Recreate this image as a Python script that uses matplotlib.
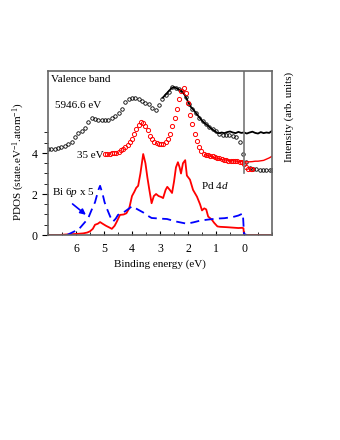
import matplotlib
matplotlib.use('Agg')
import matplotlib.pyplot as plt
from matplotlib.ticker import MultipleLocator, FixedLocator

plt.rcParams['font.family'] = ['Liberation Serif', 'DejaVu Serif']
plt.rcParams['mathtext.fontset'] = 'custom'
plt.rcParams['mathtext.rm'] = 'Liberation Serif'
plt.rcParams['mathtext.it'] = 'Liberation Serif:italic'

# 5946.6 eV valence band (open circles)
hx_e = [7.00, 6.88, 6.76, 6.64, 6.52, 6.40, 6.28, 6.16, 6.04, 5.92, 5.80, 5.68, 5.56, 5.44,
        5.32, 5.20, 5.08, 4.96, 4.84, 4.72, 4.60, 4.48, 4.36, 4.24, 4.12, 4.00, 3.88, 3.76,
        3.64, 3.52, 3.40, 3.28, 3.16, 3.04, 2.92, 2.80, 2.68, 2.56, 2.44, 2.32, 2.20, 2.08,
        1.96, 1.84, 1.72, 1.60, 1.48, 1.36, 1.24, 1.12, 1.00, 0.88, 0.76, 0.64, 0.52, 0.40,
        0.28, 0.16, 0.04, -0.08, -0.20, -0.32, -0.44, -0.56, -0.68, -0.80, -0.92, -1.00]
hx_i = [4.18, 4.18, 4.20, 4.24, 4.28, 4.33, 4.42, 4.55, 4.78, 4.98, 5.08, 5.20, 5.50, 5.70,
        5.68, 5.62, 5.60, 5.60, 5.62, 5.70, 5.80, 5.93, 6.15, 6.48, 6.62, 6.68, 6.70, 6.62,
        6.52, 6.45, 6.38, 6.20, 6.12, 6.32, 6.62, 6.85, 6.98, 7.20, 7.18, 7.10, 7.00, 6.75,
        6.38, 6.15, 5.95, 5.72, 5.55, 5.40, 5.28, 5.15, 5.05, 4.92, 4.88, 4.88, 4.87, 4.83,
        4.78, 4.55, 3.95, 3.55, 3.28, 3.22, 3.20, 3.19, 3.18, 3.18, 3.17, 3.17]

# 5946.6 eV solid line
hl_e = [2.90, 2.80, 2.70, 2.60, 2.50, 2.40, 2.30, 2.20, 2.10, 2.00, 1.90, 1.80, 1.70, 1.60,
        1.50, 1.40, 1.30, 1.20, 1.10, 1.00, 0.90, 0.80, 0.70, 0.60, 0.50, 0.40, 0.30, 0.20,
        0.10, 0.00, -0.10, -0.20, -0.30, -0.40, -0.50, -0.60, -0.70, -0.80, -0.90, -1.00]
hl_i = [6.70, 6.85, 7.00, 7.15, 7.22, 7.15, 7.08, 6.98, 6.80, 6.50, 6.25, 6.10, 5.92, 5.75,
        5.58, 5.45, 5.35, 5.22, 5.12, 5.02, 4.96, 5.00, 4.97, 5.02, 5.05, 5.00, 4.97, 5.03,
        4.98, 5.00, 4.95, 5.00, 5.04, 4.98, 4.95, 5.02, 4.97, 5.00, 4.98, 5.08]

# 35 eV valence band (open circles)
lx_e = [4.96, 4.88, 4.80, 4.72, 4.64, 4.56, 4.48, 4.40, 4.32, 4.24, 4.16, 4.08, 4.00, 3.92,
        3.84, 3.76, 3.68, 3.60, 3.52, 3.44, 3.36, 3.28, 3.20, 3.12, 3.04, 2.96, 2.88, 2.80,
        2.72, 2.64, 2.56, 2.48, 2.40, 2.32, 2.24, 2.16, 2.08, 2.00, 1.92, 1.84, 1.76, 1.68,
        1.60, 1.52, 1.44, 1.36, 1.28, 1.20, 1.12, 1.04, 0.96, 0.88, 0.80, 0.72, 0.64, 0.56,
        0.48, 0.40, 0.32, 0.24, 0.16, 0.08, 0.00, -0.08, -0.16, -0.24, -0.30]
lx_i = [3.95, 3.96, 3.97, 3.98, 3.99, 4.02, 4.07, 4.13, 4.20, 4.28, 4.38, 4.52, 4.68, 4.92,
        5.18, 5.38, 5.50, 5.47, 5.33, 5.10, 4.85, 4.68, 4.56, 4.48, 4.45, 4.44, 4.45, 4.55,
        4.70, 4.95, 5.30, 5.70, 6.15, 6.65, 7.02, 7.15, 6.95, 6.45, 5.85, 5.40, 4.95, 4.60,
        4.30, 4.08, 3.96, 3.90, 3.88, 3.86, 3.84, 3.80, 3.78, 3.74, 3.70, 3.67, 3.65, 3.63,
        3.62, 3.61, 3.60, 3.59, 3.58, 3.56, 3.45, 3.30, 3.22, 3.20, 3.20]

# 35 eV solid line
ll_e = [1.40, 1.30, 1.20, 1.10, 1.00, 0.90, 0.80, 0.70, 0.60, 0.50, 0.40, 0.30, 0.20, 0.10,
        0.00, -0.10, -0.20, -0.30, -0.40, -0.50, -0.60, -0.70, -0.80, -0.90, -1.00]
ll_i = [3.92, 3.88, 3.84, 3.80, 3.76, 3.72, 3.68, 3.66, 3.65, 3.63, 3.62, 3.60, 3.60, 3.58,
        3.57, 3.57, 3.57, 3.58, 3.60, 3.60, 3.62, 3.64, 3.70, 3.76, 3.84]

# Pd 4d PDOS
pd_e = [7.0, 6.6, 6.3, 6.0, 5.74, 5.6, 5.5, 5.4, 5.32, 5.22, 5.14, 5.05, 4.93, 4.8, 4.72,
        4.62, 4.54, 4.43, 4.3, 4.2, 4.1, 4.0, 3.92, 3.85, 3.78, 3.7, 3.6, 3.52, 3.45, 3.38,
        3.3, 3.22, 3.14, 3.05, 2.95, 2.89, 2.8, 2.74, 2.65, 2.57, 2.5, 2.43, 2.36, 2.3, 2.25,
        2.18, 2.1, 2.04, 1.93, 1.82, 1.68, 1.57, 1.5, 1.42, 1.35, 1.28, 1.15, 1.07, 0.95,
        0.86, 0.6, 0.4, 0.2, 0.07, 0.02, 0.0, -0.1, -1.0]
pd_dos = [0.0, 0.0, 0.03, 0.05, 0.08, 0.12, 0.18, 0.3, 0.5, 0.55, 0.63, 0.55, 0.45, 0.36, 0.3,
          0.45, 0.66, 0.98, 1.0, 1.06, 1.3, 1.9, 2.1, 2.3, 2.4, 3.0, 3.95, 3.5, 2.8, 2.2,
          1.55, 1.9, 2.0, 1.9, 1.85, 1.8, 2.2, 2.35, 2.2, 2.05, 2.6, 3.3, 3.55, 3.3, 3.0,
          3.5, 3.65, 2.9, 2.7, 2.2, 1.87, 1.5, 1.2, 1.3, 1.25, 0.9, 0.75, 0.6, 0.42,
          0.4, 0.38, 0.36, 0.34, 0.35, 0.33, 0.02, 0.0, 0.0]

# Bi 6p PDOS x 5
bi_e = [6.32, 5.9, 5.57, 5.45, 5.32, 5.2, 5.14, 5.05, 4.98, 4.9, 4.78, 4.68, 4.58, 4.5,
        4.25, 4.0, 3.8, 3.6, 3.45, 3.3, 3.0, 2.75, 2.4, 2.04, 1.8, 1.57, 1.3, 0.97, 0.7,
        0.39, 0.2, 0.04, 0.0, -0.1]
bi_dos = [0.0, 0.28, 0.8, 1.2, 1.6, 2.2, 2.4, 2.0, 1.6, 1.3, 0.9, 0.65, 0.8, 0.98,
          1.15, 1.4, 1.25, 1.1, 0.95, 0.83, 0.8, 0.78, 0.65, 0.55, 0.62, 0.7, 0.75, 0.8, 0.82,
          0.88, 0.95, 1.05, 0.05, 0.0]

fs = 8

fig = plt.figure(figsize=(3.4, 4.4), dpi=100)
ax = fig.add_axes([48/340, 1-235/440, 224/340, 164/440])

ax.plot(hx_e, hx_i, 'o', ms=2.5, mfc='none', mec='black', mew=0.6)
ax.plot(hl_e, hl_i, '-', color='black', lw=1.3)
ax.plot(lx_e, lx_i, 'o', ms=3.0, mfc='none', mec='red', mew=0.7)
ax.plot(ll_e, ll_i, '-', color='red', lw=1.0)
ax.plot(pd_e, pd_dos, '-', color='red', lw=1.3)
ax.plot(bi_e, bi_dos, color='blue', lw=1.3, dashes=(5, 3))

# Fermi level marker in the photoemission part
ax.axvline(0, ymin=3.0/8, ymax=1, color='#777777', lw=1.2)

ax.set_xlim(7, -1)
ax.set_ylim(0, 8)
ax.xaxis.set_major_locator(FixedLocator([6, 5, 4, 3, 2, 1, 0]))
ax.xaxis.set_minor_locator(MultipleLocator(0.5))
ax.yaxis.set_major_locator(FixedLocator([0, 2, 4]))
ax.yaxis.set_minor_locator(FixedLocator([0.5, 1, 1.5, 2.5, 3, 3.5, 4.5, 5]))
ax.tick_params(axis='x', which='both', direction='in', top=False, labelsize=fs + 0.5, pad=6)
ax.tick_params(axis='x', which='major', length=3)
ax.tick_params(axis='x', which='minor', length=2)
ax.tick_params(axis='y', which='both', direction='out', right=False, labelsize=fs + 0.5)
ax.tick_params(axis='y', which='major', length=4)
ax.tick_params(axis='y', which='minor', length=3)
for s in ax.spines.values():
    s.set_color('#666666')
    s.set_linewidth(1.2)

ax.set_xlabel('Binding energy (eV)', fontsize=fs, labelpad=3)
ax.set_ylabel('PDOS (state.eV$^{-1}$.atom$^{-1}$)', fontsize=fs)
ax.yaxis.set_label_coords(-0.095, 0.445)
fig.text(289/340, 1-117/440, 'Intensity (arb. units)', rotation=90, fontsize=fs,
         ha='center', va='center')

ax.text(6.88, 7.6, 'Valence band', fontsize=fs, va='center')
ax.text(6.75, 6.3, '5946.6 eV', fontsize=fs, va='center')
ax.text(5.96, 3.88, '35 eV', fontsize=fs, va='center')
ax.text(1.55, 2.4, 'Pd 4$\\mathit{d}$', fontsize=fs, va='center')
ax.text(6.85, 2.05, 'Bi 6$\\mathit{p}$ x 5', fontsize=fs, va='center')
ax.annotate('', xy=(5.57, 0.9), xytext=(6.2, 1.6),
            arrowprops=dict(arrowstyle='-|>', color='blue', lw=1.2, mutation_scale=8))

fig.savefig('out.png', dpi=100)
